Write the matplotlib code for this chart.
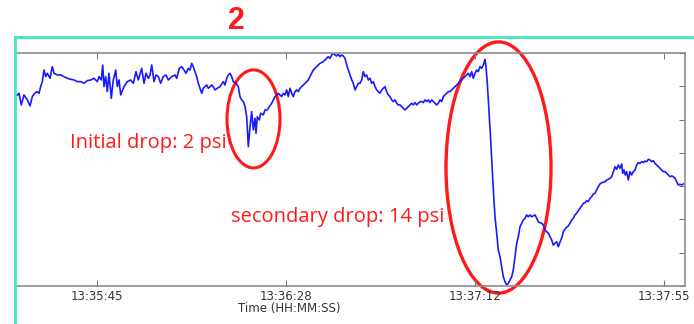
import matplotlib
matplotlib.use("Agg")
import matplotlib.pyplot as plt
from matplotlib.patches import Ellipse
from matplotlib.lines import Line2D
from matplotlib.ticker import FuncFormatter

# seconds since start of record (13:35:26.2)
t_sec = [
    0.16, 0.92, 1.44, 2.06, 2.82, 3.44, 3.97, 4.52, 5.11, 5.50, 5.89, 6.26, 6.65, 7.04, 7.41, 8.03,
    8.55, 8.94, 9.70, 10.48, 11.24, 11.99, 12.77, 13.53, 14.29, 15.07, 15.82, 16.58, 17.36, 18.11,
    18.87, 19.26, 19.79, 20.11, 20.41, 20.80, 21.16, 21.55, 22.08, 22.54, 23.09, 23.46, 23.85, 24.24,
    24.99, 25.75, 26.53, 27.13, 27.75, 28.27, 29.05, 29.58, 30.04, 30.57, 30.96, 31.35, 31.87, 32.33,
    32.86, 33.41, 34.00, 34.62, 35.15, 35.93, 36.69, 37.08, 37.67, 38.22, 38.75, 39.21, 39.74, 40.13,
    40.52, 40.88, 41.27, 41.66, 42.03, 42.42, 42.81, 43.18, 43.57, 43.96, 44.32, 44.71, 45.10, 45.47,
    45.86, 46.39, 47.01, 47.76, 48.15, 48.54, 48.91, 49.30, 49.69, 50.06, 50.68, 51.20, 51.59, 51.98,
    52.35, 52.74, 53.13, 53.50, 53.89, 54.27, 54.64, 55.03, 55.26, 55.56, 56.02, 56.34, 56.94, 57.33,
    57.85, 58.31, 58.86, 59.23, 59.62, 60.01, 60.37, 60.76, 61.15, 61.52, 61.91, 62.30, 62.67, 63.06,
    63.45, 63.81, 64.20, 64.59, 64.96, 65.35, 65.74, 66.11, 66.50, 66.89, 67.25, 67.64, 68.03, 68.40,
    68.79, 69.18, 69.55, 69.94, 70.69, 71.08, 71.47, 71.84, 72.23, 72.62, 72.99, 73.38, 73.77, 74.13,
    74.52, 74.91, 75.28, 75.67, 76.06, 76.43, 76.82, 77.21, 77.57, 77.96, 78.35, 78.72, 79.11, 79.50,
    79.87, 80.26, 80.64, 81.01, 81.40, 81.79, 82.16, 82.55, 82.94, 83.30, 83.69, 84.08, 84.45, 84.84,
    85.23, 85.60, 85.99, 86.38, 86.74, 87.13, 87.52, 87.89, 88.28, 88.67, 89.04, 89.43, 89.82, 90.18,
    90.57, 90.96, 91.33, 91.72, 92.11, 92.48, 92.87, 93.26, 93.62, 94.01, 94.40, 94.77, 95.16, 95.55,
    95.92, 96.31, 96.70, 97.06, 97.45, 97.84, 98.21, 98.60, 98.99, 99.36, 99.75, 100.14, 100.50,
    100.89, 101.28, 101.65, 102.04, 102.79, 103.57, 103.94, 104.33, 104.72, 105.09, 105.48, 105.87,
    106.23, 106.62, 107.01, 107.38, 107.77, 108.00, 108.30, 108.53, 108.76, 109.08, 109.31, 109.68,
    110.06, 110.45, 110.82, 111.21, 111.60, 111.97, 112.36, 112.75, 113.11, 113.50, 113.89, 114.26,
    114.65, 115.04, 115.41, 115.80, 116.19, 116.55, 116.94, 117.33, 117.70, 118.09, 118.48, 118.85,
    119.24, 119.63, 119.99, 120.38, 120.77, 121.14, 121.53, 121.92, 122.29, 122.68, 123.07, 123.43,
    123.82, 124.21, 124.58, 124.97, 125.36, 125.73, 126.12, 126.51, 126.87, 127.26, 127.65, 128.02,
    128.41, 128.80, 129.16, 129.55, 129.94, 130.31, 130.70, 131.09, 131.46, 131.85, 132.24, 132.60,
    132.99, 133.38, 133.75, 134.14, 134.53, 134.90, 135.29, 135.68, 136.04, 136.43, 136.82, 137.19,
    137.58, 137.97, 138.34, 138.73, 139.12, 139.34, 139.64, 139.94, 140.26, 140.63, 141.02, 141.41,
    141.78, 142.17, 142.56, 142.92, 143.31, 143.70, 144.07, 144.46, 144.85, 145.22, 145.61, 146.00,
    146.36, 146.75, 147.14, 147.51, 147.90, 148.29, 148.66, 149.05, 149.44, 149.80, 150.19, 150.58,
    150.95, 151.34, 151.73, 152.10, 152.49, 152.87, 153.24,
]

# pressure (psi above the lowest reading on the scale)
psi = [
    11.38, 11.58, 10.88, 11.48, 11.18, 10.82, 11.38, 11.58, 11.68, 11.58, 11.98, 12.28, 12.98, 12.58,
    12.78, 12.48, 13.18, 12.78, 12.68, 12.68, 12.58, 12.48, 12.42, 12.38, 12.28, 12.28, 12.18, 12.34,
    12.38, 12.48, 12.28, 12.58, 12.38, 13.28, 11.98, 12.58, 11.68, 12.78, 11.28, 12.38, 12.98, 11.98,
    12.38, 11.48, 11.98, 12.28, 12.38, 12.18, 12.88, 12.38, 13.08, 12.18, 12.78, 12.48, 12.68, 13.28,
    12.28, 12.68, 12.58, 12.18, 12.58, 12.68, 12.38, 12.58, 12.68, 12.48, 13.08, 13.18, 12.98, 12.78,
    13.08, 12.98, 13.38, 13.18, 12.88, 12.58, 12.18, 11.88, 11.58, 11.88, 11.98, 12.08, 11.88, 11.98,
    12.08, 11.98, 11.78, 11.88, 11.98, 12.28, 12.08, 12.48, 12.68, 12.78, 12.58, 12.28, 12.18, 11.98,
    11.38, 11.18, 11.08, 10.78, 10.17, 8.37, 9.57, 10.48, 9.38, 10.08, 9.18, 10.17, 9.98, 10.38, 10.28,
    10.58, 10.58, 10.78, 10.98, 11.18, 11.38, 11.48, 11.58, 11.48, 11.38, 11.58, 11.48, 11.78, 11.38,
    11.88, 11.58, 11.38, 11.68, 11.78, 11.68, 11.88, 11.98, 12.08, 12.18, 12.28, 12.38, 12.58, 12.78,
    12.98, 13.08, 13.18, 13.28, 13.38, 13.48, 13.58, 13.68, 13.78, 13.68, 13.88, 13.99, 13.88, 13.82,
    13.94, 13.78, 13.88, 13.82, 13.68, 13.28, 12.98, 12.68, 12.38, 12.18, 11.78, 11.98, 12.18, 12.18,
    12.38, 12.88, 12.58, 12.68, 12.38, 12.48, 12.18, 12.28, 11.98, 11.78, 11.68, 11.58, 11.78, 11.88,
    11.98, 11.68, 11.48, 11.38, 11.18, 11.08, 11.18, 10.98, 10.88, 10.88, 10.78, 10.68, 10.58, 10.68,
    10.78, 10.88, 10.98, 10.88, 11.02, 10.88, 10.98, 11.08, 11.08, 11.02, 11.18, 11.08, 11.18, 11.02,
    11.18, 11.08, 10.98, 10.88, 10.98, 11.18, 11.08, 11.38, 11.48, 11.58, 11.68, 11.68, 11.78, 11.88,
    11.98, 12.08, 12.18, 12.28, 12.48, 12.68, 12.78, 12.58, 12.88, 12.48, 12.78, 12.98, 12.88, 13.18,
    13.08, 13.28, 13.62, 13.18, 12.18, 11.18, 10.17, 8.77, 7.57, 5.77, 4.16, 3.17, 2.16, 1.76, 1.16,
    0.56, 0.26, 0.06, 0.16, 0.36, 0.56, 0.96, 1.76, 2.57, 2.96, 3.56, 3.77, 3.97, 4.07, 4.27, 4.16,
    4.27, 4.16, 4.21, 4.27, 4.07, 3.86, 3.80, 3.77, 3.67, 3.37, 3.26, 3.17, 2.96, 2.76, 2.46, 2.57,
    2.66, 2.36, 2.64, 2.88, 3.26, 3.43, 3.53, 3.61, 3.77, 3.97, 4.07, 4.27, 4.37, 4.53, 4.67, 4.81,
    4.97, 5.01, 5.13, 5.07, 5.27, 5.37, 5.53, 5.57, 5.77, 5.97, 6.13, 6.21, 6.23, 6.27, 6.37, 6.41,
    6.47, 6.57, 6.87, 7.17, 7.01, 7.27, 7.07, 7.33, 6.77, 6.97, 6.67, 6.87, 6.37, 6.87, 6.67, 6.87,
    6.97, 7.27, 7.41, 7.37, 7.47, 7.41, 7.51, 7.47, 7.61, 7.57, 7.47, 7.53, 7.37, 7.27, 7.17, 7.07,
    6.97, 6.87, 6.87, 6.77, 6.67, 6.57, 6.61, 6.57, 6.47, 6.27, 6.07, 6.11, 6.07, 6.13,
]

start_clock = 13 * 3600 + 35 * 60 + 26.2
tick_sec = [18.80, 62.13, 105.47, 148.80]
psi_ticks = [0, 2, 4, 6, 8, 10, 12, 14]


def clock(x, pos=None):
    s = int(round(start_clock + x))
    return "%02d:%02d:%02d" % (s // 3600, (s // 60) % 60, s % 60)


fig = plt.figure(figsize=(6.94, 3.24), dpi=100)
ax = fig.add_axes([15 / 694, 38 / 324, 670 / 694, 233 / 324])

ax.plot(t_sec, psi, color="#1a1aff", lw=1.2)
ax.set_xlim(0, 153.63)
ax.set_ylim(0, 14)

ax.set_xticks(tick_sec)
ax.xaxis.set_major_formatter(FuncFormatter(clock))
ax.set_yticks(psi_ticks)
ax.set_yticklabels([])
ax.tick_params(axis="both", direction="in", length=4, color="#777777",
               labelsize=8.5, labelcolor="#333333", pad=3,
               top=True, right=True, left=False)
ax.set_xlabel("Time (HH:MM:SS)", fontsize=8.5, color="#333333", labelpad=1)
ax.xaxis.set_label_coords(0.41, -0.07)
for side in ax.spines:
    ax.spines[side].set_color("#8c8c8c")
    ax.spines[side].set_linewidth(1.2)
ax.spines["left"].set_visible(False)

# outer frame
teal = "#40e6c0"
fig.add_artist(Line2D([15 / 694, 15 / 694], [0, 1 - 37 / 324], color=teal, lw=2))
fig.add_artist(Line2D([15 / 694, 1], [1 - 37 / 324, 1 - 37 / 324], color=teal, lw=2))

fig.text(236 / 694, 1 - 21 / 324, "2", color="#ff1a1a", fontsize=22,
         fontweight="bold", family="Liberation Sans", ha="center", va="center")

red = "#ff1a1a"
ax.add_patch(Ellipse((54.69, 10.04), 12.15, 5.89, fill=False, ec=red, lw=2.2, clip_on=False))
ax.add_patch(Ellipse((110.87, 7.12), 24.08, 15.09, fill=False, ec=red, lw=2.4, clip_on=False))

ax.text(12.61, 8.59, "Initial drop: 2 psi", color=red, fontsize=14.5,
        family="Open Sans", va="center", ha="left")
ax.text(49.53, 4.15, "secondary drop: 14 psi", color=red, fontsize=14.5,
        family="Open Sans", va="center", ha="left")

fig.savefig("out.png", dpi=100)
